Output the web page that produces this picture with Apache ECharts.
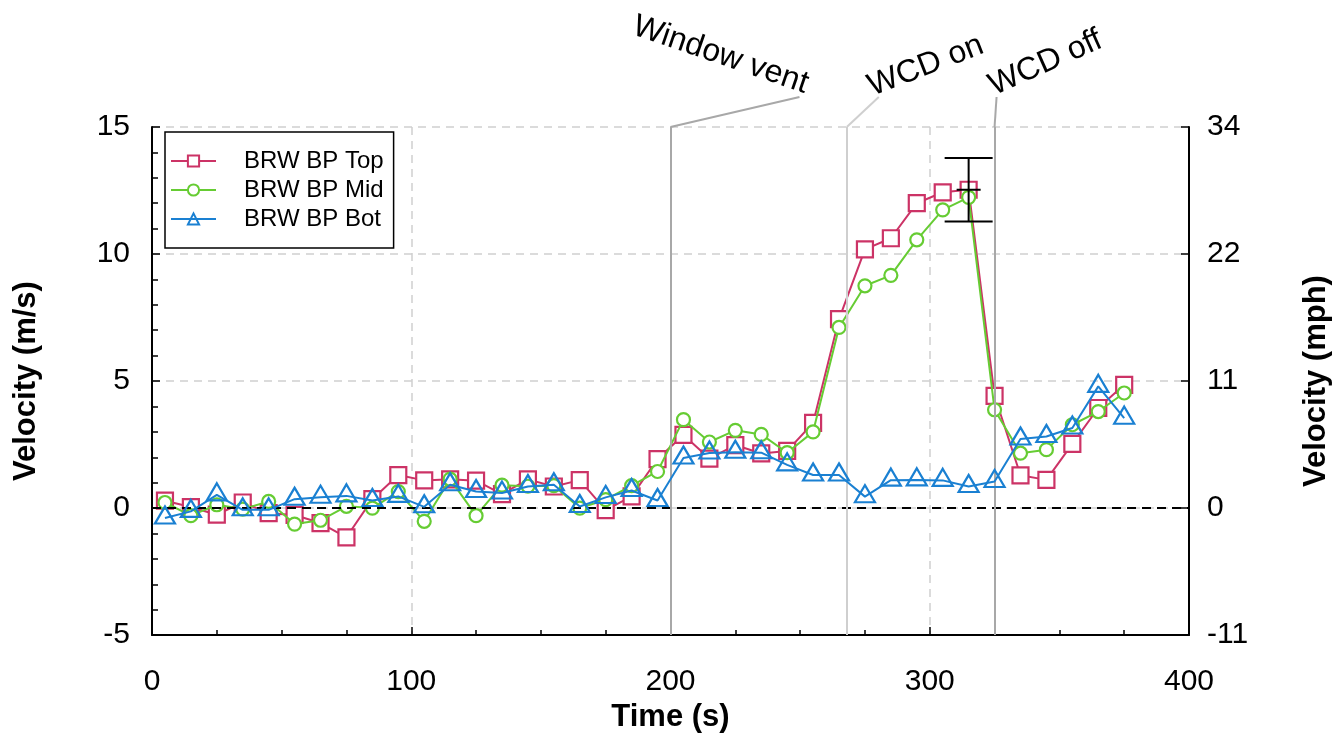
<!DOCTYPE html>
<html>
<head>
<meta charset="utf-8">
<title>BRW BP velocity</title>
<script src="https://cdn.jsdelivr.net/npm/echarts@6/dist/echarts.min.js"></script>
<style>
  html, body { margin: 0; padding: 0; background: #fff; }
  #chart { width: 1340px; height: 738px; }
</style>
</head>
<body>
<div id="chart"></div>
<script>
// Sample times (s)
const times = [5, 15, 25, 35, 45, 55, 65, 75, 85, 95, 105, 115, 125, 135, 145, 155, 165, 175, 185, 195,
               205, 215, 225, 235, 245, 255, 265, 275, 285, 295, 305, 315, 325, 335, 345, 355, 365, 375];

// Velocities (m/s) at the top, middle and bottom probes
const topVel = [0.29, 0.04, -0.26, 0.22, -0.2, -0.27, -0.59, -1.15, 0.35, 1.3, 1.09, 1.13, 1.08, 0.55, 1.13, 0.85, 1.1, -0.08, 0.46, 1.93,
                2.88, 1.95, 2.48, 2.15, 2.25, 3.35, 7.44, 10.18, 10.62, 12.0, 12.43, 12.53, 4.42, 1.29, 1.11, 2.53, 3.94, 4.85];
const midVel = [0.22, -0.3, 0.13, -0.04, 0.26, -0.63, -0.48, 0.07, 0.0, 0.65, -0.52, 1.14, -0.3, 0.9, 0.86, 0.88, 0.0, 0.33, 0.88, 1.44,
                3.48, 2.6, 3.06, 2.9, 2.18, 3.0, 7.11, 8.75, 9.16, 10.56, 11.74, 12.23, 3.87, 2.16, 2.3, 3.28, 3.8, 4.53];
const botVel = [-0.39, -0.13, 0.52, -0.07, -0.07, 0.35, 0.43, 0.48, 0.3, 0.46, 0.05, 0.92, 0.65, 0.59, 0.85, 0.92, 0.06, 0.42, 0.69, 0.3,
                1.97, 2.17, 2.2, 2.18, 1.7, 1.3, 1.3, 0.45, 1.1, 1.11, 1.09, 0.85, 1.05, 2.72, 2.82, 3.15, 4.79, 3.54];

const seriesNames = ['BRW BP Top', 'BRW BP Mid', 'BRW BP Bot'];

// Error bar on the peak top-probe reading: [time, mean, half-range]
const errorBars = [[315, 12.53, 1.25]];

// Events marked with vertical lines
const eventTimes = [200, 268, 325];
const eventLabels = ['Window vent', 'WCD on', 'WCD off'];

// Axis ticks
const xTicks = [0, 100, 200, 300, 400];
const yTicks = [-5, 0, 5, 10, 15];
const mphTicks = ['-11', '0', '11', '22', '34'];

const FONT = '"Liberation Sans", Arial, Helvetica, sans-serif';
const colors = ['#cc3366', '#66cc33', '#1a80d2'];
const eventColors = ['#a8a8a8', '#cfcfcf', '#a8a8a8'];

const chart = echarts.init(document.getElementById('chart'));

function pairs(vals) { return times.map((t, i) => [t, vals[i]]); }

const gridTop = 127;
const tickFont = 30;
const titleFont = 31;

const option = {
  animation: false,
  backgroundColor: '#fff',
  textStyle: { fontFamily: FONT },
  grid: { left: 152, right: 150, top: gridTop, bottom: 102, containLabel: false },
  legend: {
    orient: 'vertical',
    left: 165,
    top: 132,
    data: seriesNames,
    backgroundColor: '#fff',
    borderColor: '#000',
    borderWidth: 1.5,
    borderRadius: 0,
    padding: [17, 10, 17, 5],
    itemWidth: 45,
    itemHeight: 14,
    itemGap: 5,
    textStyle: { fontSize: 24, color: '#000', fontFamily: FONT, padding: [0, 0, 0, 23] }
  },
  xAxis: {
    type: 'value',
    min: xTicks[0],
    max: xTicks[xTicks.length - 1],
    interval: 100,
    name: 'Time (s)',
    nameLocation: 'middle',
    nameGap: 66,
    nameTextStyle: { fontSize: titleFont, fontWeight: 'bold', color: '#000', fontFamily: FONT },
    axisLine: { show: true, onZero: false, lineStyle: { color: '#000', width: 2 } },
    axisTick: { show: true, inside: true, length: 8, lineStyle: { color: '#000', width: 1.5 } },
    minorTick: { show: true, splitNumber: 4, length: 5, lineStyle: { color: '#000', width: 1.5 } },
    axisLabel: { fontSize: tickFont, color: '#000', margin: 32, fontFamily: FONT },
    splitLine: { show: true, lineStyle: { color: '#d0d0d0', width: 1.5, type: [8, 6] } }
  },
  yAxis: [
    {
      type: 'value',
      min: yTicks[0],
      max: yTicks[yTicks.length - 1],
      interval: 5,
      name: 'Velocity (m/s)',
      nameLocation: 'middle',
      nameRotate: 90,
      nameGap: 110,
      nameTextStyle: { fontSize: titleFont, fontWeight: 'bold', color: '#000', fontFamily: FONT },
      axisLine: { show: true, onZero: false, lineStyle: { color: '#000', width: 2 } },
      axisTick: { show: true, inside: true, length: 8, lineStyle: { color: '#000', width: 1.5 } },
      minorTick: { show: true, splitNumber: 5, length: 6, lineStyle: { color: '#000', width: 1.5 } },
      axisLabel: { fontSize: tickFont, color: '#000', margin: 22, fontFamily: FONT },
      splitLine: { show: true, lineStyle: { color: '#d0d0d0', width: 1.5, type: [8, 6] } }
    },
    {
      type: 'value',
      position: 'right',
      min: yTicks[0],
      max: yTicks[yTicks.length - 1],
      interval: 5,
      name: 'Velocity (mph)',
      nameLocation: 'middle',
      nameRotate: 90,
      nameGap: 112,
      nameTextStyle: { fontSize: titleFont, fontWeight: 'bold', color: '#000', fontFamily: FONT },
      axisLine: { show: true, onZero: false, lineStyle: { color: '#000', width: 2 } },
      axisTick: { show: true, inside: true, length: 8, lineStyle: { color: '#000', width: 1.5 } },
      axisLabel: {
        fontSize: tickFont, color: '#000', margin: 18, fontFamily: FONT,
        formatter: v => mphTicks[yTicks.indexOf(v)]
      },
      splitLine: { show: false }
    }
  ],
  series: [
    {
      name: seriesNames[0],
      type: 'line',
      data: pairs(topVel),
      symbol: 'rect',
      symbolSize: 16,
      color: colors[0],
      lineStyle: { width: 2, color: colors[0] },
      itemStyle: { color: '#fff', borderColor: colors[0], borderWidth: 2.2 },
      z: 3,
      markLine: {
        silent: true,
        symbol: 'none',
        label: { show: false },
        data: [
          { yAxis: 0, lineStyle: { color: '#000', width: 2, type: [9, 6] } }
        ].concat(eventTimes.map((t, i) => ({ xAxis: t, lineStyle: { color: eventColors[i], width: 2, type: 'solid' } })))
      }
    },
    {
      name: seriesNames[1],
      type: 'line',
      data: pairs(midVel),
      symbol: 'circle',
      symbolSize: 13,
      color: colors[1],
      lineStyle: { width: 2, color: colors[1] },
      itemStyle: { color: '#fff', borderColor: colors[1], borderWidth: 2.2 },
      z: 4
    },
    {
      name: seriesNames[2],
      type: 'line',
      data: pairs(botVel),
      symbol: 'triangle',
      symbolSize: [20, 17],
      symbolOffset: [0, -3],
      color: colors[2],
      lineStyle: { width: 2, color: colors[2] },
      itemStyle: { color: 'rgba(255,255,255,0)', borderColor: colors[2], borderWidth: 2.2 },
      z: 5
    },
    {
      type: 'custom',
      name: 'range',
      data: errorBars,
      z: 6,
      renderItem: function (params, api) {
        const x = api.value(0), m = api.value(1), h = api.value(2);
        const pHi = api.coord([x, m + h]);
        const pLo = api.coord([x, m - h]);
        const pMid = api.coord([x, m]);
        const cap = 24, mid = 12;
        const style = { stroke: '#000', lineWidth: 2 };
        return {
          type: 'group',
          children: [
            { type: 'line', shape: { x1: pHi[0], y1: pHi[1], x2: pLo[0], y2: pLo[1] }, style },
            { type: 'line', shape: { x1: pHi[0] - cap, y1: pHi[1], x2: pHi[0] + cap, y2: pHi[1] }, style },
            { type: 'line', shape: { x1: pLo[0] - cap, y1: pLo[1], x2: pLo[0] + cap, y2: pLo[1] }, style },
            { type: 'line', shape: { x1: pMid[0] - mid, y1: pMid[1], x2: pMid[0] + mid, y2: pMid[1] }, style }
          ]
        };
      }
    }
  ]
};

chart.setOption(option);

// Event labels above the plot, joined to their lines by short leaders
const leaderEnd = [[129, 97], [32, 97], [2, 97]];
const labelPos = [[50, 55], [79, 66], [51, 63]];
const labelRot = [-0.33, 0.37, 0.42];
const graphics = [];
eventTimes.forEach((t, i) => {
  const px = chart.convertToPixel({ xAxisIndex: 0 }, t);
  graphics.push({
    type: 'line',
    silent: true,
    shape: { x1: px, y1: gridTop, x2: px + leaderEnd[i][0], y2: leaderEnd[i][1] },
    style: { stroke: eventColors[i], lineWidth: 2 }
  });
  graphics.push({
    type: 'text',
    silent: true,
    x: px + labelPos[i][0],
    y: labelPos[i][1],
    rotation: labelRot[i],
    style: {
      text: eventLabels[i],
      fontSize: 32,
      fontFamily: FONT,
      fill: '#000',
      align: 'center',
      verticalAlign: 'middle'
    }
  });
});
chart.setOption({ graphic: graphics });
</script>
</body>
</html>
